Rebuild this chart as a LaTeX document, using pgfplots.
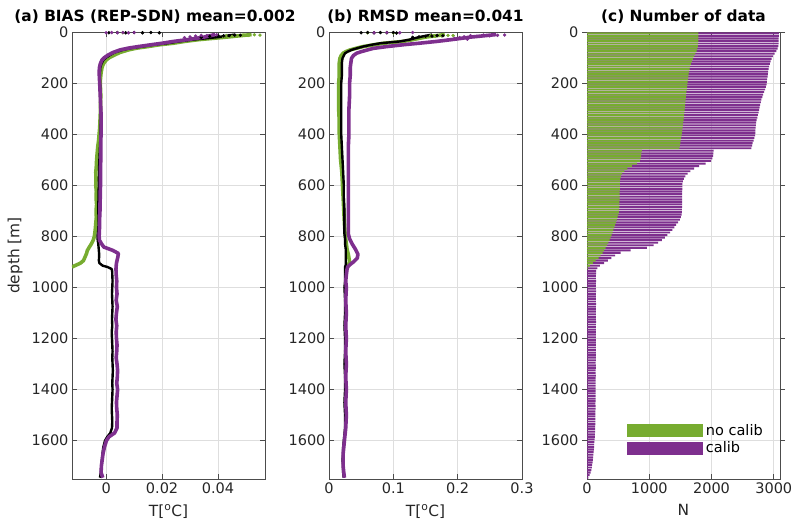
\documentclass[border=0pt]{standalone}
\usepackage{fontspec}
\setmainfont{DejaVu Sans}
\usepackage{pgfplots}
\usepackage{pgfplotstable}
\pgfplotsset{compat=1.18}
\definecolor{mgreen}{RGB}{119,172,48}
\definecolor{mpurple}{RGB}{126,47,142}

\pgfplotstableread{
d k g p
10 0.046 0.052 0.039
20 0.040 0.043 0.035
30 0.031 0.033 0.029
37 0.026 0.028 0.024
44 0.022 0.024 0.020
50 0.017 0.019 0.016
57 0.013 0.015 0.0115
63 0.009 0.011 0.008
70 0.006 0.008 0.005
80 0.003 0.005 0.0025
90 0.0014 0.003 0.0007
100 0.0000 0.0012 -0.0006
110 -0.0010 0.0000 -0.0015
125 -0.0017 -0.0010 -0.0021
140 -0.0021 -0.0015 -0.0024
160 -0.0022 -0.0018 -0.0025
180 -0.0023 -0.0020 -0.0024
200 -0.0022 -0.0021 -0.0023
225 -0.0021 -0.0020 -0.0022
250 -0.0020 -0.0019 -0.0021
275 -0.0020 -0.0020 -0.0020
300 -0.0019 -0.0020 -0.0019
325 -0.0019 -0.0021 -0.0018
350 -0.0019 -0.0022 -0.0018
375 -0.0020 -0.0023 -0.0018
400 -0.0020 -0.0025 -0.0018
425 -0.0021 -0.0027 -0.0019
450 -0.0022 -0.0030 -0.0019
475 -0.0023 -0.0032 -0.0019
500 -0.0024 -0.0034 -0.0019
525 -0.0025 -0.0035 -0.0020
550 -0.0025 -0.0037 -0.0020
575 -0.0026 -0.0036 -0.0020
600 -0.0026 -0.0037 -0.0020
625 -0.0027 -0.0035 -0.0021
650 -0.0027 -0.0036 -0.0021
675 -0.0028 -0.0034 -0.0022
700 -0.0028 -0.0036 -0.0022
725 -0.0027 -0.0035 -0.0023
750 -0.0027 -0.0037 -0.0023
775 -0.0028 -0.0039 -0.0024
800 -0.0031 -0.0042 -0.0025
815 -0.0030 -0.0046 -0.0024
830 -0.0028 -0.0053 -0.0016
842 -0.0027 -0.0060 -0.0008
855 -0.0026 -0.0067 0.0024
867 -0.0025 -0.0070 0.0044
880 -0.0025 -0.0075 0.0042
895 -0.0026 -0.0081 0.0039
905 -0.0024 -0.0092 0.0037
915 -0.0012 -0.0112 0.0036
920 0.0005 -0.0122 0.0036
928 0.0020 nan 0.0035
940 0.0022 nan 0.0036
950 0.0022 nan 0.0036
975 0.0023 nan 0.0038
1000 0.0022 nan 0.0037
1025 0.0021 nan 0.0039
1050 0.0022 nan 0.0036
1075 0.0023 nan 0.0040
1100 0.0022 nan 0.0037
1125 0.0021 nan 0.0035
1150 0.0022 nan 0.0038
1175 0.0020 nan 0.0036
1200 0.0021 nan 0.0037
1225 0.0022 nan 0.0039
1250 0.0023 nan 0.0038
1275 0.0022 nan 0.0036
1300 0.0023 nan 0.0039
1325 0.0024 nan 0.0041
1350 0.0023 nan 0.0040
1375 0.0022 nan 0.0038
1400 0.0023 nan 0.0041
1425 0.0022 nan 0.0039
1450 0.0021 nan 0.0037
1475 0.0020 nan 0.0038
1500 0.0021 nan 0.0040
1525 0.0022 nan 0.0039
1550 0.0021 nan 0.0039
1570 0.0015 nan 0.0030
1585 0.0004 nan 0.0010
1600 -0.0004 nan 0.0001
1625 -0.0010 nan -0.0006
1650 -0.0013 nan -0.0011
1675 -0.0015 nan -0.0014
1700 -0.0017 nan -0.0017
1725 -0.0019 nan -0.0018
1745 -0.0022 nan -0.0012
}\biasdata

\pgfplotstableread{
d k g p
10 0.160 0.180 0.260
20 0.140 0.150 0.220
30 0.125 0.130 0.190
37 0.110 0.115 0.167
44 0.080 0.085 0.140
50 0.066 0.070 0.115
57 0.053 0.053 0.090
64 0.043 0.042 0.069
70 0.035 0.033 0.060
77 0.029 0.026 0.050
83 0.025 0.022 0.043
92 0.023 0.019 0.038
103 0.021 0.017 0.035
120 0.020 0.016 0.034
140 0.020 0.016 0.033
170 0.020 0.016 0.033
200 0.019 0.015 0.032
250 0.019 0.015 0.032
300 0.019 0.015 0.031
350 0.019 0.016 0.031
400 0.019 0.016 0.031
450 0.020 0.017 0.030
500 0.021 0.018 0.030
550 0.022 0.020 0.030
600 0.023 0.021 0.030
650 0.023 0.022 0.030
700 0.024 0.023 0.030
750 0.024 0.024 0.030
790 0.024 0.025 0.030
810 0.025 0.026 0.032
830 0.025 0.027 0.036
850 0.026 0.028 0.041
870 0.026 0.030 0.045
885 0.026 0.031 0.044
900 0.026 0.032 0.038
912 0.026 0.030 0.032
920 0.025 0.029 0.029
930 0.025 nan 0.028
950 0.025 nan 0.027
975 0.025 nan 0.026
1000 0.024 nan 0.027
1050 0.025 nan 0.026
1100 0.025 nan 0.027
1150 0.024 nan 0.026
1200 0.025 nan 0.027
1250 0.025 nan 0.026
1300 0.024 nan 0.027
1350 0.025 nan 0.026
1400 0.025 nan 0.027
1450 0.024 nan 0.026
1500 0.025 nan 0.027
1550 0.025 nan 0.026
1575 0.024 nan 0.025
1600 0.023 nan 0.024
1625 0.022 nan 0.023
1650 0.022 nan 0.022
1675 0.021 nan 0.022
1700 0.022 nan 0.022
1725 0.022 nan 0.023
1745 0.023 nan 0.024
}\rmsddata

\pgfplotsset{
  prof/.style={
    scale only axis, width=193pt, height=447pt,
    y dir=reverse, ymin=0, ymax=1750,
    ytick={0,200,...,1600},
    grid=major, major grid style={draw=black!13, line width=0.6pt},
    tick align=inside, tick pos=both, major tick length=5pt,
    axis line style={draw=black!70, line width=0.7pt},
    tick style={draw=black!70, line width=0.7pt},
    tick label style={font=\fontsize{14.5}{16}\selectfont, text=black!85},
    label style={font=\fontsize{15.4}{18}\selectfont, text=black!85},
    xlabel style={yshift=-4pt},
    ylabel style={yshift=2pt},
    title style={font=\bfseries\fontsize{15.4}{18}\selectfont, anchor=base, yshift=4.7pt},
    /pgf/number format/assume math mode=true,
    /pgf/number format/1000 sep={},
    scaled x ticks=false,
    unbounded coords=jump,
  },
  grn/.style={mgreen, line width=3.6pt, line join=round},
  blk/.style={black, line width=2.4pt, line join=round},
  pur/.style={mpurple, line width=3.6pt, line join=round},
  dots/.style={only marks, mark=*, mark size=1.5pt},
}

\begin{document}
\begin{tikzpicture}
\useasboundingbox (0,0) rectangle (796pt,525pt);

% ---------------- (a) BIAS
\begin{axis}[prof, at={(72pt,46pt)}, anchor=south west,
  xmin=-0.0122, xmax=0.0568, xtick={0,0.02,0.04}, xticklabels={0,0.02,0.04},
  xlabel={T[\textsuperscript{o}C]}, ylabel={depth [m]},
  title={(a) BIAS (REP-SDN) mean=0.002}, title style={at={(0.43,1)}}]
\addplot[grn] table[x=g, y=d]{\biasdata};
\addplot[blk] table[x=k, y=d]{\biasdata};
\addplot[pur] table[x=p, y=d]{\biasdata};
\addplot[dots, mgreen] coordinates {(0.057,10) (0.055,12) (0.053,11) (0.051,13) (0.049,12) (0.047,15) (0.045,17) (0.043,14) (0.042,19) (0.006,3)};
\addplot[dots, black] coordinates {(0.001,3) (0.004,2) (0.007,3) (0.010,2) (0.013,3) (0.016,2) (0.019,3) (0.048,13) (0.046,12) (0.044,14) (0.042,15) (0.040,13) (0.037,17) (0.034,21)};
\addplot[dots, mpurple] coordinates {(0.000,3) (0.002,2) (0.004,3) (0.006,2) (0.008,3) (0.010,2) (0.0395,11) (0.038,12) (0.036,14) (0.034,13) (0.032,16) (0.030,19) (0.028,22)};
\end{axis}

% ---------------- (b) RMSD
\begin{axis}[prof, at={(329pt,46pt)}, anchor=south west,
  xmin=0, xmax=0.3, xtick={0,0.1,0.2,0.3}, xticklabels={0,0.1,0.2,0.3},
  xlabel={T[\textsuperscript{o}C]},
  title={(b) RMSD mean=0.041}, title style={at={(0.5,1)}}]
\addplot[grn] table[x=g, y=d]{\rmsddata};
\addplot[blk] table[x=k, y=d]{\rmsddata};
\addplot[pur] table[x=p, y=d]{\rmsddata};
\addplot[dots, mgreen] coordinates {(0.193,14) (0.185,13) (0.175,15) (0.165,17) (0.158,14) (0.150,19) (0.06,3) (0.09,2) (0.10,4)};
\addplot[dots, black] coordinates {(0.05,3) (0.06,2) (0.07,3) (0.08,2) (0.09,3) (0.10,2) (0.105,4) (0.177,15) (0.168,14) (0.160,16) (0.150,17) (0.140,19) (0.130,21)};
\addplot[dots, mpurple] coordinates {(0.07,3) (0.09,2) (0.11,3) (0.13,2) (0.273,12) (0.262,13) (0.250,15) (0.240,12) (0.230,17) (0.220,14) (0.210,19) (0.203,22) (0.195,25) (0.215,28) (0.185,30)};
\end{axis}

% ---------------- (c) Number of data
\begin{axis}[prof, at={(587pt,46pt)}, anchor=south west,
  xmin=0, xmax=3100, xtick={0,1000,2000,3000},
  xlabel={N},
  title={(c) Number of data}, title style={at={(0.5,1)}},
  xbar, bar width=7.5, bar shift=0pt,
  legend image code/.code={\fill[#1] (0pt,-6.5pt) rectangle (76pt,6.5pt);},
  legend style={draw=none, fill=none, at={(0.206,0.125)}, anchor=north west,
    font=\fontsize{14.5}{16}\selectfont, row sep=3pt, inner sep=0pt,
    nodes={inner ysep=1pt, inner xsep=3pt}},
  legend cell align=left]
\addplot[fill=mpurple, draw=none, forget plot] coordinates {
(3080,5) (3080,15) (3079,25) (3078,35) (3076,45) (3072,55) (3062,65) (3040,75) (3012,85) (2985,95)
(2965,105) (2950,115) (2937,125) (2926,135) (2917,145) (2910,155) (2905,165) (2900,175) (2895,185) (2890,195)
(2884,205) (2874,215) (2860,225) (2845,235) (2830,245) (2816,255) (2802,265) (2791,275) (2781,285) (2771,295)
(2764,305) (2755,315) (2745,325) (2735,335) (2726,345) (2718,355) (2712,365) (2708,375) (2705,385) (2703,395)
(2700,405) (2690,415) (2676,425) (2662,435) (2651,445) (2641,455) (2035,465) (2030,475) (2024,485) (2015,495)
(1995,505) (1905,515) (1800,525) (1720,535) (1660,545) (1618,555) (1580,565) (1556,575) (1541,585) (1532,595)
(1530,605) (1530,615) (1529,625) (1529,635) (1528,645) (1528,655) (1527,665) (1527,675) (1526,685) (1525,695)
(1524,705) (1520,715) (1508,725) (1490,735) (1462,745) (1432,755) (1402,765) (1372,775) (1334,785) (1292,795)
(1250,805) (1202,815) (1142,825) (1070,835) (960,845) (700,855) (540,865) (450,875) (390,885) (335,895)
(275,905) (205,915) (165,925) (148,935) (146,945) (144,955) (143,965) (145,975) (144,985) (142,995)
(143,1005) (145,1015) (144,1025) (142,1035) (143,1045) (144,1055) (145,1065) (143,1075) (142,1085) (144,1095)
(143,1105) (142,1115) (144,1125) (145,1135) (143,1145) (142,1155) (143,1165) (144,1175) (142,1185) (141,1195)
(143,1205) (144,1215) (142,1225) (141,1235) (143,1245) (142,1255) (141,1265) (143,1275) (142,1285) (140,1295)
(141,1305) (142,1315) (140,1325) (139,1335) (141,1345) (140,1355) (139,1365) (140,1375) (138,1385) (139,1395)
(140,1405) (138,1415) (137,1425) (139,1435) (138,1445) (136,1455) (137,1465) (138,1475) (136,1485) (135,1495)
(136,1505) (134,1515) (135,1525) (133,1535) (132,1545) (131,1555) (129,1565) (127,1575) (125,1585) (122,1595)
(119,1605) (116,1615) (113,1625) (110,1635) (107,1645) (103,1655) (99,1665) (95,1675) (90,1685) (84,1695)
(78,1705) (70,1715) (58,1725) (42,1735) (22,1745)};
\addplot[fill=mgreen, draw=none] coordinates {
(1790,5) (1790,15) (1789,25) (1788,35) (1786,45) (1782,55) (1774,65) (1760,75) (1742,85) (1720,95)
(1700,105) (1684,115) (1670,125) (1658,135) (1648,145) (1640,155) (1634,165) (1628,175) (1623,185) (1618,195)
(1613,205) (1608,215) (1603,225) (1598,235) (1594,245) (1590,255) (1586,265) (1582,275) (1578,285) (1574,295)
(1570,305) (1565,315) (1560,325) (1555,335) (1550,345) (1545,355) (1540,365) (1535,375) (1530,385) (1524,395)
(1518,405) (1512,415) (1505,425) (1498,435) (1490,445) (1482,455) (880,465) (875,475) (868,485) (860,495)
(848,505) (800,515) (720,525) (650,535) (600,545) (565,555) (545,565) (535,575) (530,585) (528,595)
(527,605) (526,615) (525,625) (524,635) (523,645) (522,655) (521,665) (520,675) (518,685) (515,695)
(510,705) (503,715) (493,725) (480,735) (466,745) (452,755) (438,765) (424,775) (410,785) (395,795)
(380,805) (362,815) (343,825) (322,835) (300,845) (276,855) (250,865) (220,875) (185,885) (140,895)
(95,905) (45,915) (10,925)};
\addlegendentry{no calib}
\addlegendimage{fill=mpurple, draw=none}
\addlegendentry{calib}
\end{axis}
\end{tikzpicture}
\end{document}
